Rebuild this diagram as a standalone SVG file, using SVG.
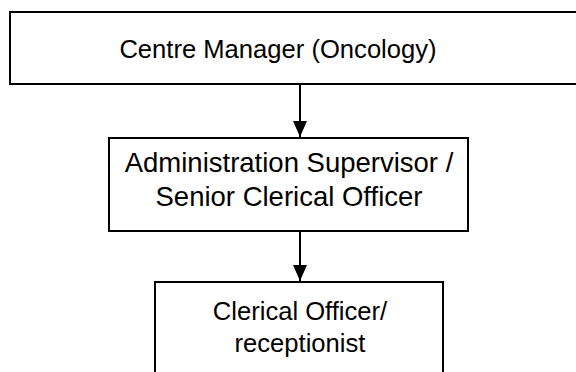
<svg xmlns="http://www.w3.org/2000/svg" width="576" height="372" viewBox="0 0 576 372">
<defs>
<style>
.box{fill:#fff;stroke:#000;stroke-width:2}
.t{font-family:"Liberation Sans",Arial,sans-serif;font-size:25.6px;fill:#000;text-anchor:middle}
.m{font-size:27.5px}
.c{stroke:#000;stroke-width:2;fill:none}
</style>
<marker id="ah" viewBox="0 0 16 14" refX="16" refY="7" markerWidth="16" markerHeight="14" markerUnits="userSpaceOnUse" orient="auto">
<path d="M0,0 L16,7 L0,14 z" fill="#000"/>
</marker>
</defs>
<rect width="576" height="372" fill="#fff"/>
<g id="connectors">
<line class="c" x1="300" y1="84" x2="300" y2="137" marker-end="url(#ah)"/>
<line class="c" x1="300" y1="231" x2="300" y2="281" marker-end="url(#ah)"/>
</g>
<g id="n1">
<rect class="box" x="10" y="12" width="580" height="72"/>
<text class="t" x="278" y="58">Centre Manager (Oncology)</text>
</g>
<g id="n2">
<rect class="box" x="109" y="138" width="359" height="93"/>
<text class="t m" x="289" y="172">Administration Supervisor /</text>
<text class="t m" x="289" y="206">Senior Clerical Officer</text>
</g>
<g id="n3">
<rect class="box" x="155" y="282" width="288" height="100"/>
<text class="t" x="300" y="320">Clerical Officer/</text>
<text class="t" x="300" y="352">receptionist</text>
</g>
</svg>
